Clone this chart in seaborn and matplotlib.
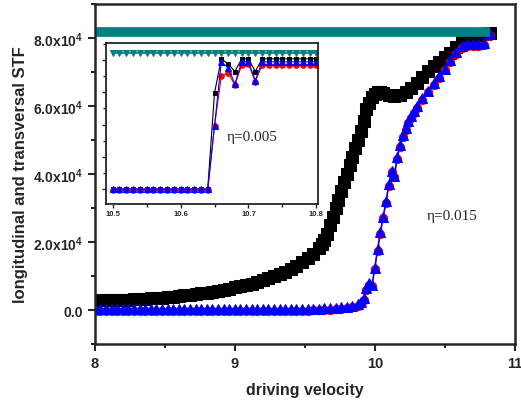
import numpy as np
import pandas as pd
import matplotlib
matplotlib.use('Agg')
import matplotlib.pyplot as plt
from matplotlib.ticker import MultipleLocator, FuncFormatter
import seaborn as sns

sns.set_theme(style='ticks')
plt.rcParams['font.family'] = ['Liberation Sans', 'DejaVu Sans']
plt.rcParams['mathtext.fontset'] = 'custom'
plt.rcParams['mathtext.bf'] = 'Liberation Sans:bold'
plt.rcParams['mathtext.rm'] = 'Liberation Sans:bold'
plt.rcParams['mathtext.default'] = 'bf'

#%% main panel, eta = 0.015
# longitudinal STF (black squares)
x_long = np.round(np.concatenate([np.arange(8.0, 9.601, 0.04),
                                  np.arange(9.62, 10.061, 0.02),
                                  np.arange(10.10, 10.821, 0.04)]), 2)
y_long = ([2800, 2850, 2900, 2950, 3000, 3050, 3100, 3200, 3300, 3350,
           3450, 3550, 3650, 3800, 3950, 4100, 4300, 4500, 4700, 4900,
           5100, 5400, 5700, 6000, 6300, 6700, 7000, 7400, 7800, 8200,
           8700, 9300, 9900, 10600, 11300, 12100, 13000, 14000, 15200, 16500,
           18200] +
          [19300, 20600, 22300, 25000, 27500, 30000, 32500, 35000, 37500, 40000,
           42500, 45000, 47500, 50000, 52500, 55500, 59000, 61000, 62500, 63500,
           64000, 64200, 63800] +
          [63300, 63000, 63300, 64200, 65300, 66800, 68600, 70200, 71700, 73000,
           74300, 75700, 77300, 79200, 80400, 80700, 80900, 81100, 81400])

# transversal STF (blue triangles / red circles)
x_trans = np.round(np.concatenate([np.arange(8.0, 9.881, 0.04),
                                   np.arange(9.90, 10.301, 0.02),
                                   np.arange(10.34, 10.821, 0.04)]), 2)
y_blue = ([300] * 38 +
          [350, 400, 450, 500, 600, 700, 800, 1000, 1300, 1800] +
          [2500, 3500, 6500, 8000, 7500, 12500, 18000, 23000, 27500, 32000,
           37000, 41000, 39500, 45000, 48500, 51500, 53500, 55500, 57000, 58500,
           60000] +
          [62200, 64500, 66700, 68800, 71000, 73400, 75800, 77500, 78200, 78300,
           78300, 78400, 81000])
y_red = ([-200] * 38 +
         [-150, -100, -50, 0, 100, 200, 300, 500, 800, 1300] +
         [2000, 3000, 6000, 7500, 7000, 12000, 17500, 22500, 27000, 31500,
          36500, 40500, 39000, 44500, 48000, 51000, 53000, 55000, 56500, 58000,
          59500] +
         [61700, 64000, 66200, 68300, 70500, 72900, 75300, 77000, 77600, 77700,
          77700, 77800, 80500])

x_teal = [8.0, 10.82]
y_teal = [81800, 81800]

#%% inset, eta = 0.005
x_in = np.round(np.arange(10.50, 10.801, 0.01), 2)
y_in_black = [0] * 15 + [59600, 80800, 77700, 72900, 80800, 80800, 72900] + [80800] * 9
y_in_blue = [0] * 15 + [39100, 78900, 75200, 65200, 78900, 78900, 67300] + [78900] * 9
y_in_red = [-800] * 15 + [39100, 70000, 72000, 64500, 77000, 77500, 66500] + [77000] * 9
y_in_teal = [84500] * 31

teal = '#008080'

fig = plt.figure(figsize=(5.21, 4.06), dpi=100)
ax = fig.add_axes([0.182, 0.150, 0.806, 0.838])

sns.lineplot(x=x_long, y=y_long, ax=ax, color='black', marker='s', markersize=8,
             markeredgecolor='black', lw=1, sort=False, estimator=None)
sns.lineplot(x=x_trans, y=y_red, ax=ax, color='red', marker='o', markersize=6,
             markeredgecolor='red', lw=1, sort=False, estimator=None)
sns.lineplot(x=x_trans, y=y_blue, ax=ax, color='blue', marker='^', markersize=7.5,
             markeredgecolor='blue', lw=1, sort=False, estimator=None)
sns.lineplot(x=x_teal, y=y_teal, ax=ax, color=teal, lw=7, sort=False, estimator=None,
             solid_capstyle='butt')

ax.set_xlim(8, 11)
ax.set_ylim(-10000, 90000)
ax.xaxis.set_major_locator(MultipleLocator(1))
ax.xaxis.set_minor_locator(MultipleLocator(0.5))
ax.yaxis.set_major_locator(MultipleLocator(20000))
ax.yaxis.set_minor_locator(MultipleLocator(10000))


def yfmt(v, pos):
    if abs(v) < 1:
        return '0.0'
    if v < 0 or v > 85000:
        return ''
    return '%.1fx10$^{4}$' % (v / 1e4)


ax.yaxis.set_major_formatter(FuncFormatter(yfmt))
ax.xaxis.set_major_formatter(FuncFormatter(lambda v, p: '%d' % v))
for lab in ax.get_xticklabels() + ax.get_yticklabels():
    lab.set_fontweight('bold')
ax.tick_params(which='major', direction='out', length=5, width=1.5, labelsize=10)
ax.tick_params(axis='x', labelsize=10.5)
ax.tick_params(which='minor', direction='out', length=3, width=1.5)
for s in ax.spines.values():
    s.set_visible(True)
    s.set_linewidth(1.8)
ax.set_xlabel('driving velocity', fontsize=11.5, fontweight='bold', labelpad=9)
ax.set_ylabel('longitudinal and transversal STF', fontsize=12, fontweight='bold', labelpad=4)
ax.text(10.55, 27900, 'η=0.015', fontsize=11, family=['Liberation Serif', 'DejaVu Serif'],
        ha='center', va='center')

#%% inset
axi = fig.add_axes([0.203, 0.495, 0.407, 0.397])
sns.lineplot(x=x_in, y=y_in_black, ax=axi, color='black', marker='s', markersize=3.5,
             markeredgecolor='black', lw=0.8, sort=False, estimator=None)
sns.lineplot(x=x_in, y=y_in_red, ax=axi, color='red', marker='o', markersize=4,
             markeredgecolor='red', lw=0.8, sort=False, estimator=None)
sns.lineplot(x=x_in, y=y_in_blue, ax=axi, color='blue', marker='^', markersize=4.5,
             markeredgecolor='blue', lw=0.8, sort=False, estimator=None)
sns.lineplot(x=x_in, y=y_in_teal, ax=axi, color=teal, marker='v', markersize=4,
             markeredgecolor=teal, lw=1.2, sort=False, estimator=None)
axi.set_xlim(10.49, 10.802)
axi.set_ylim(-9300, 90700)
axi.xaxis.set_major_locator(MultipleLocator(0.1))
axi.xaxis.set_minor_locator(MultipleLocator(0.05))
axi.yaxis.set_major_locator(MultipleLocator(20000))
axi.yaxis.set_minor_locator(MultipleLocator(10000))
axi.xaxis.set_major_formatter(FuncFormatter(lambda v, p: '%.1f' % v))
axi.set_yticklabels([])
for lab in axi.get_xticklabels():
    lab.set_fontweight('bold')
axi.tick_params(which='major', direction='out', length=3, width=1, labelsize=5.5, pad=1.5)
axi.tick_params(which='minor', direction='out', length=2, width=1)
for s in axi.spines.values():
    s.set_visible(True)
    s.set_linewidth(1.3)
axi.set_xlabel('')
axi.set_ylabel('')
axi.text(0.69, 0.42, 'η=0.005', transform=axi.transAxes, fontsize=11,
         family=['Liberation Serif', 'DejaVu Serif'], ha='center', va='center')

fig.savefig('out.png', dpi=100)
